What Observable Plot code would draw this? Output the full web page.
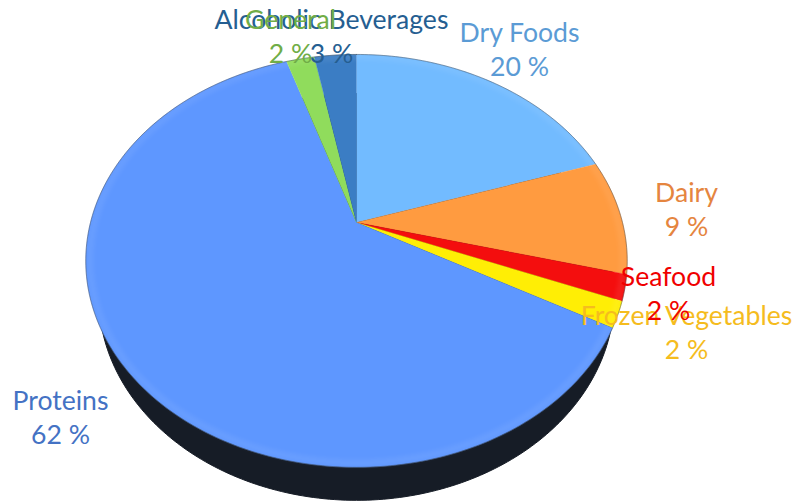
<!DOCTYPE html>
<html>
<head>
<meta charset="utf-8">
<script src="https://cdn.jsdelivr.net/npm/d3@7"></script>
<script src="https://cdn.jsdelivr.net/npm/@observablehq/plot@0.6"></script>
<style>
html,body{margin:0;padding:0;background:#fff;overflow:hidden}
svg{display:block;background:linear-gradient(180deg,#fff 0%,#fff 72%,#fafafa 100%)}
</style>
</head>
<body>
<div id="chart"></div>
<script>
// Data
const categories = ["Dry Foods","Dairy","Seafood","Frozen Vegetables","Proteins","General","Alcoholic Beverages"];
const percents = [20,9,2,2,62,2,3];

// Styles and layout
const sliceColors = ["#72BBFF","#FF9B40","#F40E0E","#FFEE05","#5E97FF","#90DC5C","#3B7DC4"];
const textColors = ["#5B9BD5","#E5853F","#F00000","#F5BC1E","#4472C4","#70AD47","#255E91"];
const labelPlace = [[519,48],[686,208],[668,292],[686,331],[60,416],[290,35],[331,35]];
const apex = [356,222], persp = -0.186, spanY = 158, spanX = 266;

// Tilted disc: pie angle (turn fraction from 12 o'clock) to chart coordinates
function disc(t, r = 1) {
  const a = t * 2 * Math.PI, u = r * Math.sin(a), v = -r * Math.cos(a), w = 1 + persp * v;
  return {x: apex[0] + spanX * u / w, y: (apex[1] + spanY * v) / w};
}
const total = d3.sum(percents);
let run = 0;
const slices = [];
categories.forEach((name, i) => {
  const t0 = run / total, t1 = (run + percents[i]) / total;
  run += percents[i];
  const n = Math.max(2, Math.ceil((t1 - t0) * 360));
  slices.push({name, x: apex[0], y: apex[1]});
  for (let k = 0; k <= n; k++) {
    const p = disc(t0 + (t1 - t0) * k / n);
    slices.push({name, x: p.x, y: p.y});
  }
});
const ring = d3.range(0, 361).map(k => disc(k / 360));
const inner = d3.range(0, 361).map(k => disc(k / 360, 0.985));
const base = ring.map(p => ({x: 356 + (p.x - 356) * 0.952, y: p.y * 0.985 + 40}));
const labels = categories.map((name, i) => ({
  i, text: `${name}\n${percents[i]} %`, x: labelPlace[i][0], y: labelPlace[i][1]
})).reverse();

const chart = Plot.plot({
  width: 795, height: 502, margin: 0,
  x: {domain: [0,795], range: [0,795], axis: null},
  y: {domain: [0,502], range: [0,502], axis: null},
  style: {background: "transparent"},
  marks: [
    Plot.line(base, {x:"x", y:"y", fill:"#161C26", stroke:"#161C26", strokeWidth:1, curve:"linear"}),
    ...categories.map((c,i) => Plot.line(slices.filter(d => d.name === c), {
      x:"x", y:"y", fill: sliceColors[i], stroke: sliceColors[i], strokeWidth: 0.4, curve:"linear"
    })),
    Plot.line(inner, {x:"x", y:"y", stroke:"#fff", strokeOpacity:0.08, strokeWidth:6, imageFilter:"blur(2.5px)", curve:"linear"}),
    Plot.line(ring, {x:"x", y:"y", stroke:"#3a4048", strokeOpacity:0.45, strokeWidth:1, imageFilter:"blur(0.6px)", curve:"linear"}),
    ...labels.map(d => Plot.text([d], {
      x:"x", y:"y", text:"text", fill: textColors[d.i], fontFamily:"Lato, Carlito, sans-serif",
      fontSize: 26.6, lineHeight: 1.28, textAnchor:"middle"
    }))
  ]
});
document.getElementById("chart").append(chart);
</script>
</body>
</html>
